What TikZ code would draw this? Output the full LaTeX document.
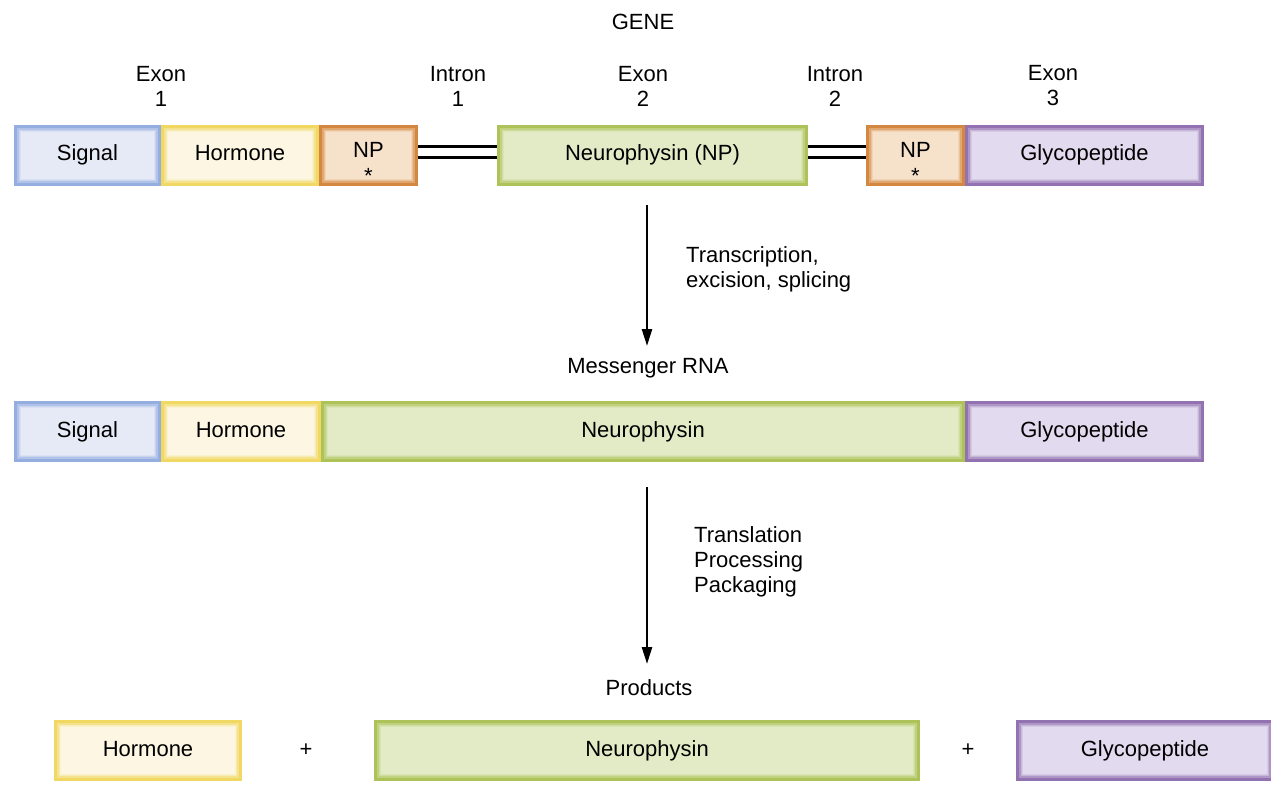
\documentclass[tikz,border=0pt]{standalone}
\usepackage{fontspec}
\setmainfont{Liberation Sans}
\usetikzlibrary{arrows.meta}
\definecolor{sigB}{HTML}{94AEE0}\definecolor{sigF}{HTML}{E6EAF7}
\definecolor{horB}{HTML}{F0D862}\definecolor{horF}{HTML}{FCF6E2}
\definecolor{npB}{HTML}{D48740}\definecolor{npF}{HTML}{F6E2CB}
\definecolor{neuB}{HTML}{ADC35A}\definecolor{neuF}{HTML}{E2EBC6}
\definecolor{glyB}{HTML}{9272B0}\definecolor{glyF}{HTML}{E2DAEE}
\tikzset{
  txt/.style={font=\fontsize{22}{25}\selectfont, inner sep=0pt, align=center},
  seg/.style 2 args={draw=#1, fill=#2, line width=6pt, inner sep=0pt,
    font=\fontsize{22}{25}\selectfont, text height=15.5pt, text depth=4.5pt},
  glow/.style={line width=#1},
  star/.style={font=\fontsize{22}{22}\selectfont, inner sep=0pt, anchor=north},
  flow/.style={line width=2.5pt, -{Triangle[length=17pt,width=10pt]}},
  intron/.style={line width=3pt},
}
\newcommand\seg[8]{%
  \node[seg={#6}{#7}, minimum width={#4-#2-6}, minimum height={#5-#3-6}]
    (#1) at ({(#2+#4)/2},{(#3+#5)/2}) {#8};
  \draw[glow=2pt, color=#6!65!#7] ([shift={(4,4)}]#1.north west) rectangle ([shift={(-4,-4)}]#1.south east);
  \draw[glow=1.5pt, color=#6!35!#7] ([shift={(5.7,5.7)}]#1.north west) rectangle ([shift={(-5.7,-5.7)}]#1.south east);
  \draw[glow=1pt, color=#6!15!#7] ([shift={(6.9,6.9)}]#1.north west) rectangle ([shift={(-6.9,-6.9)}]#1.south east);}
\begin{document}
\begin{tikzpicture}[x=1pt,y=-1pt]
\useasboundingbox (0,0) rectangle (1271,794);
% labels
\node[txt] (gene) at (643,22) {GENE};
\node[txt] (ex1) at (161,86) {Exon\\1};
\node[txt] (in1) at (458,86) {Intron\\1};
\node[txt] (ex2) at (643,86) {Exon\\2};
\node[txt] (in2) at (835,86) {Intron\\2};
\node[txt] (ex3) at (1053,86) {Exon\\3};
% gene row
\seg{gsig}{14}{125}{161}{186}{sigB}{sigF}{Signal}
\seg{ghor}{161}{125}{319}{186}{horB}{horF}{Hormone}
\seg{gnp1}{319}{125}{418}{186}{npB}{npF}{\raisebox{3pt}{NP}}
\seg{gneu}{497}{125}{808}{186}{neuB}{neuF}{Neurophysin (NP)}
\seg{gnp2}{866}{125}{965}{186}{npB}{npF}{\raisebox{3pt}{NP}}
\seg{ggly}{965}{125}{1204}{186}{glyB}{glyF}{Glycopeptide}
\node[star] (s1) at ([yshift=-12.5pt]gnp1.center) {*};
\node[star] (s2) at ([yshift=-12.5pt]gnp2.center) {*};
\draw[intron] ([yshift=8.8pt]gnp1.east) -- ([yshift=8.8pt]gneu.west);
\draw[intron] ([yshift=-2.2pt]gnp1.east) -- ([yshift=-2.2pt]gneu.west);
\draw[intron] ([yshift=8.8pt]gneu.east) -- ([yshift=8.8pt]gnp2.west);
\draw[intron] ([yshift=-2.2pt]gneu.east) -- ([yshift=-2.2pt]gnp2.west);
% arrow 1
\coordinate (a1s) at (647,205);
\coordinate (a1e) at (647,346);
\draw[flow] (a1s) -- (a1e);
\node[txt, anchor=west, align=left] (t1) at (686,269) {Transcription,\\excision, splicing};
\node[txt] (mrna) at (648,368) {Messenger RNA};
% mRNA row
\seg{msig}{14}{401}{161}{462}{sigB}{sigF}{Signal}
\seg{mhor}{161}{401}{321}{462}{horB}{horF}{Hormone}
\seg{mneu}{321}{401}{965}{462}{neuB}{neuF}{Neurophysin}
\seg{mgly}{965}{401}{1204}{462}{glyB}{glyF}{Glycopeptide}
% arrow 2
\coordinate (a2s) at (647,487);
\coordinate (a2e) at (647,664);
\draw[flow] (a2s) -- (a2e);
\node[txt, anchor=west, align=left] (t2) at (694,562) {Translation\\Processing\\Packaging};
\node[txt] (prod) at (649,688) {Products};
% products row
\seg{phor}{54}{720}{242}{781}{horB}{horF}{Hormone}
\node[txt] (plus1) at (306,750) {+};
\seg{pneu}{374}{720}{920}{781}{neuB}{neuF}{Neurophysin}
\node[txt] (plus2) at (968,750) {+};
\seg{pgly}{1016}{720}{1274}{781}{glyB}{glyF}{Glycopeptide}
\end{tikzpicture}
\end{document}
